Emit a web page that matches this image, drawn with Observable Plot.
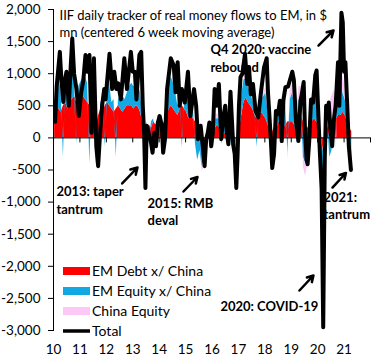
<!DOCTYPE html>
<html><head><meta charset="utf-8">
<script src="https://cdn.jsdelivr.net/npm/d3@7"></script>
<script src="https://cdn.jsdelivr.net/npm/@observablehq/plot@0.6"></script>
<style>body{margin:0;background:#fff} svg{display:block}</style>
</head><body><div id="chart"></div>
<script>
// ---- data ----
const seriesNames = ["EM Debt x/ China", "EM Equity x/ China", "China Equity"];
const seriesColors = ["#ff0000", "#12a8e4", "#fcc8f6"];
const startYear = 2010; // monthly values, Jan 2010 .. Apr 2021
const debtValues = [
  350, 500, 450, 400, 500, 550, 450, 550, 600, 650, 550, 650,
  680, 650, 600, 550, 500, 450, 300, 200, 350, 450, 400, 500,
  550, 500, 450, 400, 450, 500, 450, 400, 450, 500, 500, 500,
  450, 500, 480, 400, 250, 100, 150, 200, 150, 250, 200, 250,
  250, 200, 250, 300, 450, 500, 450, 400, 350, 450, 500, 450,
  400, 300, 350, 300, 250, 150, 50, 0, -50, 50, 100, 50,
  50, 150, 200, 150, 100, 50, 100, 150, 150, 100, 0, -50,
  150, 350, 550, 620, 550, 500, 450, 350, 300, 350, 400, 350,
  300, 200, 150, 100, 150, 150, 250, 200, 150, 200, 250, 250,
  250, 200, 300, 400, 350, 250, 200, 150, 200, 250, 300, 250,
  200, 100, -200, -100, 150, 200, 250, 300, 300, 350, 350, 400,
  350, 250, 150, 100
];
const equityValues = [
  -80, 200, 500, 300, -300, 200, 300, 550, 600, 250, -100, 150,
  200, 300, 350, 300, -400, 200, 300, -400, -300, 100, 200, -150,
  300, 350, 100, 200, -300, 100, 200, 250, 150, 200, 300, 350,
  350, 300, 350, 300, 100, -200, 100, -100, 100, 50, -50, 100,
  100, -150, -100, 200, 400, 450, 400, 300, 150, 200, -150, 100,
  250, 300, 100, 200, -100, -350, -200, -450, -300, -100, 100, -100,
  -150, 150, 100, 150, -100, 50, 150, 200, -100, 100, -300, -200,
  200, 300, 350, 300, 250, 200, 150, 100, -150, 100, 200, 300,
  400, 200, -100, -400, -350, 100, 200, -100, 150, 300, -250, 350,
  450, 350, -100, 200, 200, -300, -400, -250, 200, 300, 400, 350,
  200, -400, -600, -200, 100, -300, -200, 100, 300, 500, 800, 300,
  250, 200, -300, -500
];
const chinaValues = [
  0, 0, 0, 0, 0, 0, 0, 0, 0, 0, 0, 0,
  0, 0, 0, 0, 0, 0, 0, 30, 0, 0, 0, 0,
  0, 0, 0, 0, 0, 0, 0, 0, 0, 0, 0, 0,
  0, 0, 0, 0, 0, 0, 0, 0, 0, 0, 0, 0,
  0, 0, 0, 0, 0, 0, 0, 0, 0, 0, 0, 0,
  0, 0, 0, 0, 0, 0, 0, -80, -80, -60, 0, 0,
  0, 50, 80, 30, 0, 0, 0, 0, 0, 0, 0, 0,
  0, 0, 0, 80, 100, 80, 0, 50, 0, 0, 50, 50,
  100, 50, 0, -100, -80, 0, 80, 0, 100, 150, -100, 150,
  150, 100, 50, 200, 250, -150, -200, -150, 100, 150, 250, 300,
  250, -150, -200, -100, 300, 350, 400, 350, -200, 150, 300, 250,
  200, 150, -100, -100
];
const totalYears = [
  2010.06, 2010.12, 2010.24, 2010.30, 2010.37, 2010.43, 2010.49, 2010.58, 2010.65, 2010.71, 2010.78, 2010.87, 2010.96,
  2011.05, 2011.13, 2011.21, 2011.28, 2011.36, 2011.44, 2011.53, 2011.62, 2011.69, 2011.75, 2011.84, 2011.92, 2011.97,
  2012.12, 2012.22, 2012.30, 2012.38, 2012.45, 2012.55, 2012.68, 2012.78, 2012.93,
  2013.00, 2013.08, 2013.14, 2013.25, 2013.32, 2013.38, 2013.43, 2013.48, 2013.53, 2013.60, 2013.67, 2013.75, 2013.82, 2013.88, 2013.95,
  2014.02, 2014.10, 2014.15, 2014.22, 2014.30, 2014.44, 2014.50, 2014.55, 2014.62, 2014.70, 2014.78, 2014.86, 2014.97,
  2015.09, 2015.18, 2015.25, 2015.32, 2015.40, 2015.47, 2015.57, 2015.65, 2015.72, 2015.78, 2015.84, 2015.90, 2015.97,
  2016.03, 2016.10, 2016.18, 2016.26, 2016.35, 2016.42, 2016.50, 2016.56, 2016.62, 2016.70, 2016.80, 2016.86, 2016.92, 2016.97,
  2017.02, 2017.08, 2017.15, 2017.25, 2017.33, 2017.40, 2017.47, 2017.55, 2017.65, 2017.75, 2017.85, 2017.97,
  2018.07, 2018.12, 2018.18, 2018.23, 2018.28, 2018.35, 2018.42, 2018.50, 2018.57, 2018.64, 2018.70, 2018.78, 2018.88,
  2019.04, 2019.10, 2019.18, 2019.27, 2019.35, 2019.40, 2019.47, 2019.52, 2019.58, 2019.62, 2019.68, 2019.75, 2019.83, 2019.91, 2019.96,
  2020.02, 2020.08, 2020.15, 2020.21, 2020.27, 2020.32, 2020.37, 2020.42, 2020.48, 2020.55, 2020.60, 2020.68, 2020.77, 2020.82, 2020.90, 2020.95,
  2021.00, 2021.05, 2021.12, 2021.18, 2021.26
];
const totalValues = [
  250, 800, 1340, 900, 560, 900, 1030, 500, 1100, 1550, 1000, 760, 340,
  710, 900, 1290, 1030, 1290, 80, 1240, -130, -440, -20, 500, 760, 600,
  1310, 760, 1030, 760, 850, 600, 1240, 760, 1340,
  1030, 1030, 600, 1290, 1340, 500, 80, -780, 190, 80, -20, -230, 80, -130, 240,
  340, 190, -230, -20, 760, 1240, 1180, 1130, 710, 1180, 500, 760, 550,
  1030, 340, 550, 760, 500, -20, 190, -130, -440, -20, 80, 240, -130,
  80, 760, 500, 840, -20, 300, 500, 80, -100, 720, -100, -250, -780, -250,
  500, 950, 1000, 1310, 840, 1100, 680, 840, 420, 320, 700, 1100,
  1240, 700, 300, -50, -470, -250, 420, 370, 580, -50, 580, 790, 800,
  1030, 900, 260, -50, 580, 680, 870, 130, -340, -410, -50, 600, 550, 980, 1050,
  420, -200, -800, -2950, -300, 500, 340, 550, 140, -130, 240, 500, 1180, 500, 1950, 1800,
  1030, 1180, 500, -130, -500
];
const yTicks = [2000, 1500, 1000, 500, 0, -500, -1000, -1500, -2000, -2500, -3000];
const xTicks = [2010, 2011, 2012, 2013, 2014, 2015, 2016, 2017, 2018, 2019, 2020, 2021];
const xTickMarks = [2010, 2011, 2012, 2013, 2014, 2015, 2016, 2017, 2018, 2019, 2020, 2021, 2022];
const titleText = "IIF daily tracker of real money flows to EM, in $\nmn (centered 6 week moving average)";
const annotations = [
  {text: "Q4 2020: vaccine\nrebound", x: 2015.94, y: 1034},
  {text: "2013: taper\ntantrum", x: 2010.11, y: -1178},
  {text: "2015: RMB\ndeval", x: 2013.56, y: -1354},
  {text: "2020: COVID-19", x: 2016.32, y: -2704},
  {text: "2021:\ntantrum", x: 2020.22, y: -1260}
];
const arrows = [
  {x1: 2012.60, y1: -710, x2: 2013.18, y2: -461},
  {x1: 2014.92, y1: -835, x2: 2015.45, y2: -609},
  {x1: 2020.03, y1: 1439, x2: 2020.60, y2: 1673},
  {x1: 2019.31, y1: -2377, x2: 2019.84, y2: -2143},
  {x1: 2020.56, y1: -773, x2: 2021.07, y2: -547}
];
const legendLabels = ["EM Debt x/ China", "EM Equity x/ China", "China Equity", "Total"];

// ---- build ----
const componentValues = [debtValues, equityValues, chinaValues];
const rows = [];
seriesNames.forEach((name, s) => componentValues[s].forEach((v, i) =>
  rows.push({x: startYear + (i + 0.5) / 12, series: name, value: v})));
const totalRows = totalYears.map((x, i) => ({x, value: totalValues[i]}));
const fmt = d3.formatLocale({decimal: ".", thousands: ",", grouping: [3], currency: ["$", ""], minus: "-"}).format(",");

const chart = Plot.plot({
  width: 384, height: 360,
  marginLeft: 53, marginRight: 14, marginTop: 9, marginBottom: 30,
  style: {fontFamily: "Lato, sans-serif", fontSize: "13.5px", color: "#000", background: "#fff"},
  x: {domain: [2010, 2022]},
  y: {domain: [-3000, 2000]},
  color: {domain: seriesNames, range: seriesColors},
  marks: [
    Plot.areaY(rows, {x: "x", y: "value", fill: "series", curve: "linear"}),
    Plot.ruleY([0], {stroke: "#000", strokeWidth: 1}),
    Plot.ruleX(xTickMarks, {x: d => d, y1: 0, y2: 0, insetBottom: -5, stroke: "#000"}),
    Plot.line(totalRows, {x: "x", y: "value", stroke: "#000", strokeWidth: 4, strokeLinejoin: "round"}),
    Plot.frame({anchor: "left", stroke: "#000"}),
    Plot.axisY({ticks: yTicks, tickFormat: fmt, tickSize: 5, tickPadding: 8, label: null, fontSize: 13.5}),
    Plot.axisX({ticks: xTicks, tickFormat: d => String(d).slice(2), tickSize: 0, tickPadding: 14, label: null, fontSize: 13.5}),
    Plot.text([titleText], {x: 2010.23, y: 1579, text: d => d, textAnchor: "start", lineAnchor: "bottom", lineHeight: 1.27, fontSize: 13}),
    Plot.text(annotations, {x: "x", y: "y", text: "text", textAnchor: "start", lineAnchor: "bottom", lineHeight: 1.33, fontWeight: "bold", fontSize: 13}),
    Plot.arrow(arrows, {x1: "x1", y1: "y1", x2: "x2", y2: "y2", stroke: "#000", strokeWidth: 2.5, headLength: 7})
  ]
});

// legend (inside plot area, bottom-left)
const svg = d3.select(chart);
const lg = svg.append("g").attr("font-family", "Lato, sans-serif").attr("font-size", 14).attr("text-anchor", "start");
legendLabels.forEach((label, i) => {
  const cy = 271 + i * 20;
  if (i < 3) {
    lg.append("rect").attr("x", 63).attr("y", cy - 4).attr("width", 27).attr("height", 8).attr("fill", seriesColors[i]);
  } else {
    lg.append("line").attr("x1", 63).attr("x2", 90).attr("y1", cy).attr("y2", cy).attr("stroke", "#000").attr("stroke-width", 3.5);
  }
  lg.append("text").attr("x", 92).attr("y", cy).attr("dy", "0.35em").text(label);
});
document.getElementById("chart").appendChild(chart);
</script>
</body></html>
